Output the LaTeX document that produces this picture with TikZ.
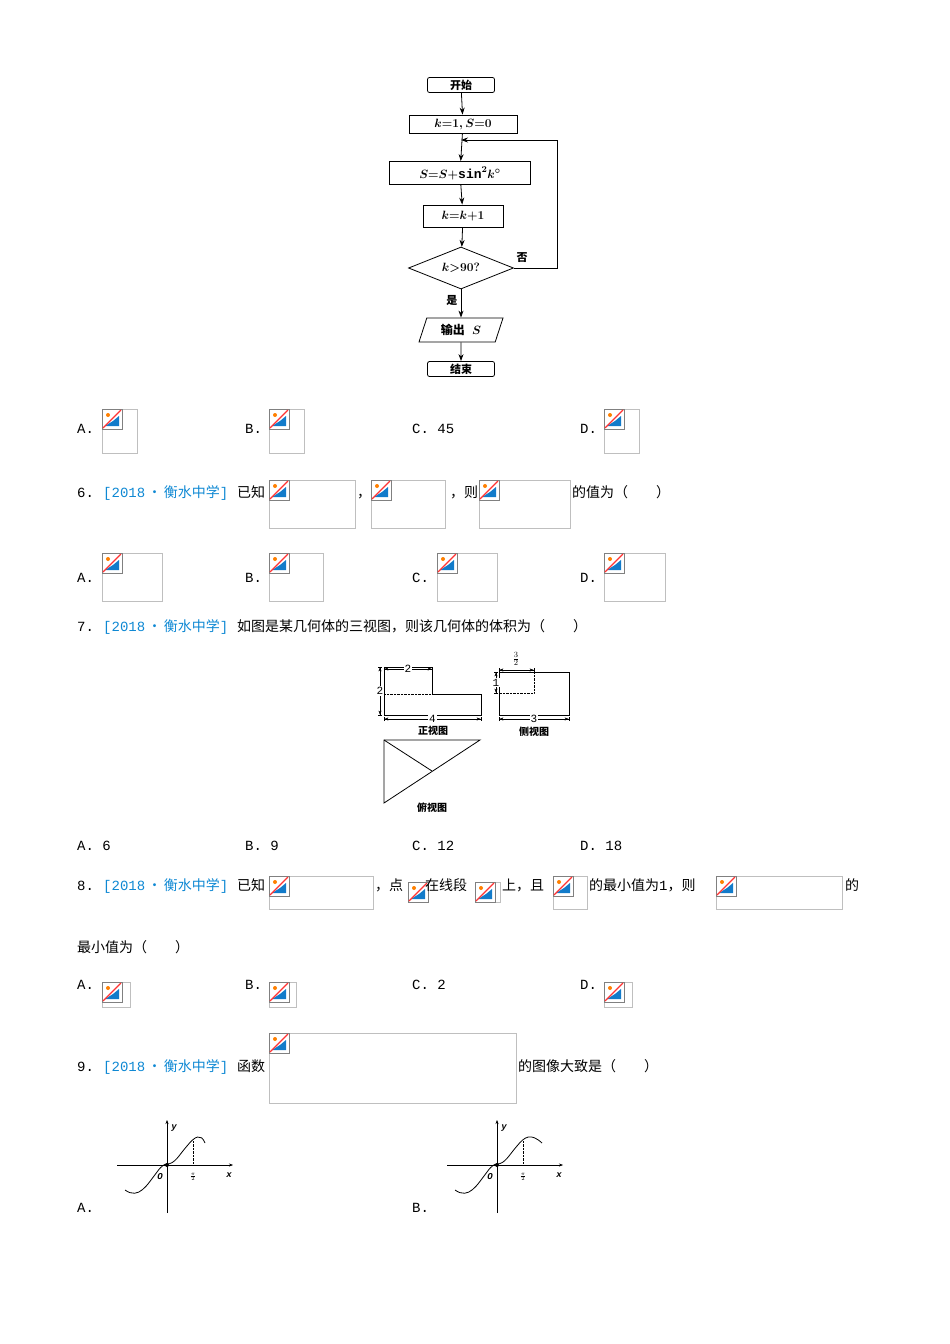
\documentclass[tikz,border=0pt]{standalone}
\usepackage{fontspec}
\setmainfont{Liberation Mono}
\newfontfamily\cjk{Noto Sans CJK SC}
\usetikzlibrary{shapes.geometric,arrows.meta}
\newcommand{\zh}[1]{{\cjk #1}}
\newcommand{\pimg}[4]{%
 \draw[black!25] (#1,#2) rectangle (#3,#4);
 \fill[white] (#1,#2) rectangle ++(20,20);
 \draw[gray,line width=0.8pt] (#1,#2) rectangle ++(20,20);
 \fill[cyan!60!blue] (#1+3,#2+17) -- (#1+17,#2+17) -- (#1+17,#2+7) -- (#1+11,#2+12) -- cycle;
 \fill[orange] (#1+6,#2+6) circle (2);
 \draw[red!80,line width=1.2pt] (#1+1,#2+19) -- (#1+19,#2+1);}
\begin{document}
\begin{tikzpicture}[x=1pt,y=-1pt,
 txt/.style={anchor=base west,inner sep=0,font=\fontsize{14}{16}\selectfont},
 cy/.style={txt,text=cyan!70!blue},
 fbox/.style={draw,thick,minimum height=16,inner sep=2,font=\fontsize{13}{14}\selectfont\bfseries\boldmath},
 arr/.style={thick,-{Stealth[length=7pt,width=5pt]}},
 dim/.style={thin,{Bar[width=4pt]Stealth[length=4pt]}-{Stealth[length=4pt]Bar[width=4pt]}},
 dl/.style={fill=white,inner sep=1,font=\fontsize{11}{12}\selectfont}]
\useasboundingbox (0,0) rectangle (950,1344);
% flowchart
\node[fbox,rounded corners=2,minimum width=67,minimum height=15,font=\fontsize{11}{12}\selectfont\bfseries] (st) at (461,85) {\zh{开始}};
\node[fbox,minimum width=108,minimum height=18] (init) at (463,124) {$k{=}1,S{=}0$};
\node[fbox,minimum width=141,minimum height=23] (sum) at (460,173) {$S{=}S{+}\mathrm{sin}^2 k^\circ$};
\node[fbox,minimum width=80,minimum height=22] (inc) at (463,216) {$k{=}k{+}1$};
\node[draw,thick,diamond,aspect=2.5,minimum width=105,minimum height=42,inner sep=0,font=\fontsize{13}{14}\selectfont\boldmath] (dec) at (461,268) {$k{>}90?$};
\node[draw,thick,trapezium,trapezium left angle=72,trapezium right angle=108,minimum width=84,minimum height=22,inner sep=2,font=\fontsize{12}{13}\selectfont\bfseries\boldmath] (out) at (461,330) {\zh{输出} $S$};
\node[fbox,rounded corners=2,minimum width=67,minimum height=15,font=\fontsize{11}{12}\selectfont\bfseries] (en) at (461,369) {\zh{结束}};
\coordinate (lp) at (461,140);
\coordinate (rc) at (557,268);
\draw[arr] (st) -- (init);
\draw[arr] (init) -- (sum);
\draw[arr] (sum) -- (inc);
\draw[arr] (inc) -- (dec);
\draw[arr] (dec) -- node[left,pos=0.4,font=\fontsize{11}{12}\selectfont\bfseries]{\zh{是}} (out);
\draw[arr] (out) -- (en);
\draw[arr] (dec.east) -- (rc) |- (lp);
\node[font=\fontsize{11}{12}\selectfont\bfseries] (no) at (522,258) {\zh{否}};
% options row 1
\node[txt] (a1) at (77,433) {A.}; \pimg{102}{409}{137}{453}
\node[txt] (b1) at (245,433) {B.}; \pimg{269}{409}{304}{453}
\node[txt] (c1) at (412,433) {C. 45};
\node[txt] (d1) at (580,433) {D.}; \pimg{604}{409}{639}{453}
% Q6
\node[txt] (q6) at (77,497) {6.};
\node[cy] (q6s) at (103,497) {[2018\,\zh{•}\,\zh{衡水中学}]};
\node[txt] (q6a) at (237,497) {\zh{已知}};
\pimg{269}{480}{355}{528}
\node[txt] (q6b) at (357,497) {\zh{，}};
\pimg{371}{480}{445}{528}
\node[txt] (q6c) at (450,497) {\zh{，则}};
\pimg{479}{480}{570}{528}
\node[txt] (q6d) at (572,497) {\zh{的值为（　　）}};
\node[txt] (a2) at (77,582) {A.}; \pimg{102}{553}{162}{601}
\node[txt] (b2) at (245,582) {B.}; \pimg{269}{553}{323}{601}
\node[txt] (c2) at (412,582) {C.}; \pimg{437}{553}{497}{601}
\node[txt] (d2) at (580,582) {D.}; \pimg{604}{553}{665}{601}
% Q7
\node[txt] (q7) at (77,631) {7.};
\node[cy] (q7s) at (103,631) {[2018\,\zh{•}\,\zh{衡水中学}]};
\node[txt] (q7a) at (237,631) {\zh{如图是某几何体的三视图，则该几何体的体积为（　　）}};
% front view
\draw[thick] (384,667) -- (432,667) -- (432,694) -- (481,694) -- (481,715) -- (384,715) -- cycle;
\draw[densely dotted] (384,694) -- (432,694);
\draw[dim] (384,669) -- node[dl]{2} (432,669);
\draw[dim] (380,667) -- node[dl]{2} (380,715);
\draw[dim] (384,719) -- node[dl]{4} (481,719);
\node[font=\fontsize{10}{11}\selectfont\bfseries] (fv) at (433,731) {\zh{正视图}};
% side view
\draw[thick] (499,672) rectangle (569,715);
\draw[densely dotted] (534,672) -- (534,693) -- (499,693);
\draw[dim] (499,670) -- (534,670);
\node[font=\fontsize{11}{12}\selectfont] (sv32) at (516,659) {$\frac{3}{2}$};
\draw[dim] (496,672) -- node[dl]{1} (496,693);
\draw[dim] (499,719) -- node[dl]{3} (569,719);
\node[font=\fontsize{10}{11}\selectfont\bfseries] (svl) at (534,732) {\zh{侧视图}};
% top view
\draw[thick] (384,740) -- (480,740) -- (384,803) -- cycle;
\draw[thick] (384,740) -- (432,771);
\node[font=\fontsize{10}{11}\selectfont\bfseries] (tvl) at (432,808) {\zh{俯视图}};
\node[txt] (a3) at (77,850) {A. 6};
\node[txt] (b3) at (245,850) {B. 9};
\node[txt] (c3) at (412,850) {C. 12};
\node[txt] (d3) at (580,850) {D. 18};
% Q8
\node[txt] (q8) at (77,890) {8.};
\node[cy] (q8s) at (103,890) {[2018\,\zh{•}\,\zh{衡水中学}]};
\node[txt] (q8a) at (237,890) {\zh{已知}};
\pimg{269}{876}{373}{909}
\node[txt] (q8b) at (375,890) {\zh{，点}};
\pimg{408}{882}{423}{902}
\node[txt] (q8c) at (425,890) {\zh{在线段}};
\pimg{475}{882}{500}{902}
\node[txt] (q8d) at (502,890) {\zh{上，且}};
\pimg{553}{876}{587}{909}
\node[txt] (q8e) at (589,890) {\zh{的最小值为}1\zh{，则}};
\pimg{716}{876}{842}{909}
\node[txt] (q8f) at (845,890) {\zh{的}};
\node[txt] (q8g) at (77,952) {\zh{最小值为（　　）}};
\node[txt] (a4) at (77,989) {A.}; \pimg{102}{982}{130}{1007}
\node[txt] (b4) at (245,989) {B.}; \pimg{269}{982}{296}{1007}
\node[txt] (c4) at (412,989) {C. 2};
\node[txt] (d4) at (580,989) {D.}; \pimg{604}{982}{632}{1007}
% Q9
\node[txt] (q9) at (77,1071) {9.};
\node[cy] (q9s) at (103,1071) {[2018\,\zh{•}\,\zh{衡水中学}]};
\node[txt] (q9a) at (237,1071) {\zh{函数}};
\pimg{269}{1033}{516}{1103}
\node[txt] (q9b) at (518,1071) {\zh{的图像大致是（　　）}};
% graphs
\foreach \ox/\pk in {167/38, 497/45}{
 \draw[-{Stealth[length=4pt]}] (\ox-50,1165) -- (\ox+66,1165);
 \draw[-{Stealth[length=4pt]}] (\ox,1213) -- (\ox,1120);
 \node[font=\fontsize{9}{10}\selectfont\itshape\bfseries] at (\ox+7,1128) {y};
 \node[font=\fontsize{9}{10}\selectfont\itshape\bfseries] at (\ox+62,1175) {x};
 \node[font=\fontsize{9}{10}\selectfont\itshape\bfseries] at (\ox-7,1177) {O};
 \fill (\ox,1165) circle (2);
 \draw[densely dotted] (\ox+26,1165) -- (\ox+26,1140);
 \node[font=\fontsize{7}{8}\selectfont] at (\ox+26,1177) {$\frac{\pi}{2}$};
 \draw[thick] (\ox-42,1190) .. controls (\ox-28,1200) and (\ox-20,1185) .. (\ox-10,1172)
   .. controls (\ox-5,1165) and (\ox-2,1164) .. (\ox,1164)
   .. controls (\ox+8,1164) and (\ox+12,1155) .. (\ox+20,1146)
   .. controls (\ox+28,1136) and (\ox+34,1133) .. (\ox+\pk,1143);
}
\node[txt] (ga) at (77,1212) {A.};
\node[txt] (gb) at (412,1212) {B.};
\end{tikzpicture}
\end{document}
